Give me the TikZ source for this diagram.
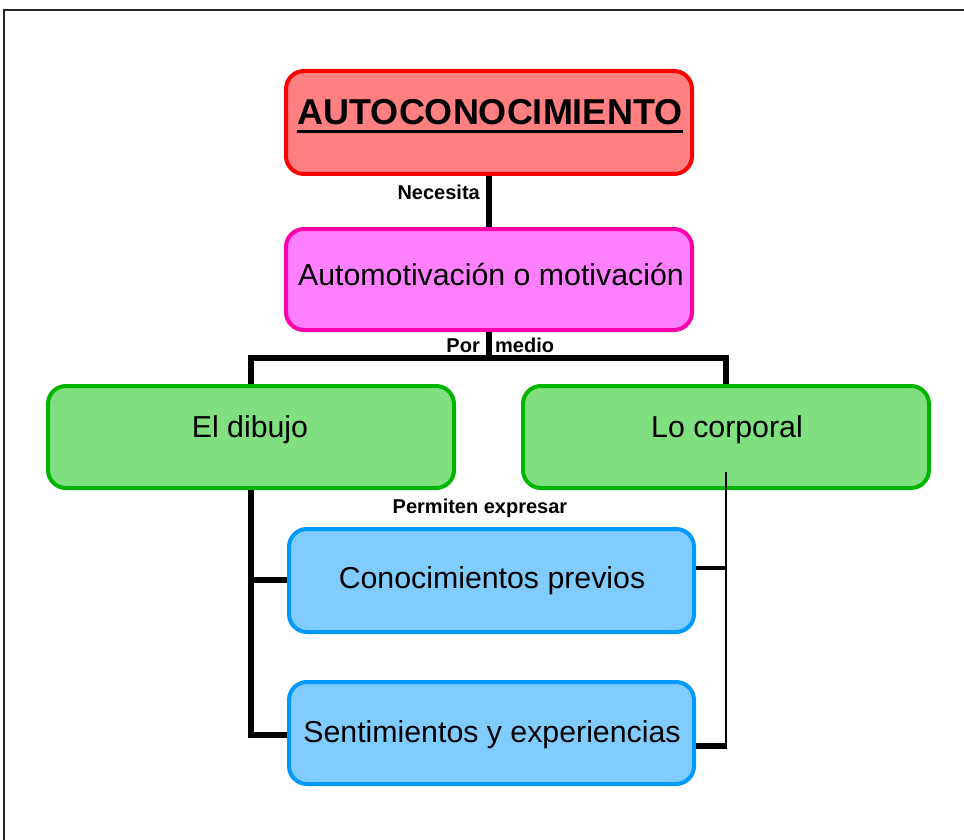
\documentclass[tikz,border=0pt]{standalone}
\usepackage{fontspec}
\setmainfont{Liberation Sans}
\definecolor{redfill}{HTML}{FF8080}
\definecolor{redline}{HTML}{FF0000}
\definecolor{magfill}{HTML}{FF80FF}
\definecolor{magline}{HTML}{FF00AA}
\definecolor{grnfill}{HTML}{80E080}
\definecolor{grnline}{HTML}{00B400}
\definecolor{blufill}{HTML}{80CCFF}
\definecolor{bluline}{HTML}{0099FF}
\tikzset{
  box/.style={rectangle, rounded corners=18pt, line width=4pt, inner sep=0pt,
    minimum width=406pt, minimum height=102pt},
  redbox/.style={box, draw=redline, fill=redfill},
  magbox/.style={box, draw=magline, fill=magfill},
  grnbox/.style={box, draw=grnline, fill=grnfill},
  blubox/.style={box, draw=bluline, fill=blufill},
  boxtext/.style={anchor=base, inner sep=0pt, font=\fontsize{30.3}{36}\selectfont},
  titletext/.style={anchor=base, inner sep=0pt, font=\fontsize{36}{43}\selectfont\bfseries},
  lbl/.style={inner sep=0pt, font=\fontsize{20}{24}\selectfont\bfseries},
  conn/.style={line width=6pt, black},
  thinconn/.style={line width=2.5pt, black},
  frame/.style={line width=2pt, black!85},
}
\begin{document}
\begin{tikzpicture}[x=1pt,y=-1pt]
\useasboundingbox (0,0) rectangle (964,840);
\fill[white] (0,0) rectangle (964,840);
% frame
\coordinate (fa) at (4,840);
\coordinate (fb) at (4,10);
\coordinate (fc) at (964,10);
\draw[frame] (fa) -- (fb) -- (fc);

% boxes
\node[redbox, minimum height=103pt] (auto) at (489,122.5) {};
\node[magbox, minimum height=101pt] (motiv) at (489,279.5) {};
\node[grnbox] (dibujo) at (251,437) {};
\node[grnbox] (corporal) at (726,437) {};
\node[blubox, minimum width=405pt, minimum height=103pt] (previos) at (491.5,580.5) {};
\node[blubox, minimum width=405pt] (sentim) at (491.5,733) {};

% texts
\node[titletext] (tauto) at (490,125) {AUTOCONOCIMIENTO};
\draw[line width=2.5pt] ([yshift=-6.5pt]tauto.base west) -- ([yshift=-6.5pt]tauto.base east);
\node[boxtext] (tmotiv) at (491,285) {Automotivación o motivación};
\node[boxtext] (tdibujo) at (250,437) {El dibujo};
\node[boxtext] (tcorporal) at (727,437) {Lo corporal};
\node[boxtext] (tprevios) at (492,588) {Conocimientos previos};
\node[boxtext] (tsentim) at (492,742) {Sentimientos y experiencias};

% labels
\node[lbl, anchor=base east] (lnec) at (480,199) {Necesita};
\node[lbl, anchor=base east] (lpor) at (480,352) {Por};
\node[lbl, anchor=base west] (lmedio) at (495,352) {medio};
\node[lbl, anchor=base] (lperm) at (480,513) {Permiten expresar};

% connectors
\draw[conn] (auto.south) -- (motiv.north);
\coordinate (hm) at (489,358);
\coordinate (hl) at (251,358);
\coordinate (hr) at (726,358);
\draw[conn] (motiv.south) -- (hm);
\draw[conn, line cap=rect] (hl) -- (hr);
\draw[conn] (hl) -- (dibujo.north);
\draw[conn] (hr) -- (corporal.north);

% left branch
\coordinate (lv1) at (251,580);
\coordinate (lv2) at (251,735);
\draw[conn] (dibujo.south) -- (lv2) -- (lv2 -| sentim.west);
\draw[conn] (lv1) -- (lv1 -| previos.west);

% right branch
\coordinate (rtop) at (726,472);
\coordinate (rv1) at (726,568);
\coordinate (rv2) at (726,746);
\draw[thinconn] (rtop) -- (rv2);
\draw[line width=4pt] (rv1 -| previos.east) -- (rv1);
\draw[conn] (rv2 -| sentim.east) -- ([xshift=1.25pt]rv2);
\end{tikzpicture}
\end{document}
